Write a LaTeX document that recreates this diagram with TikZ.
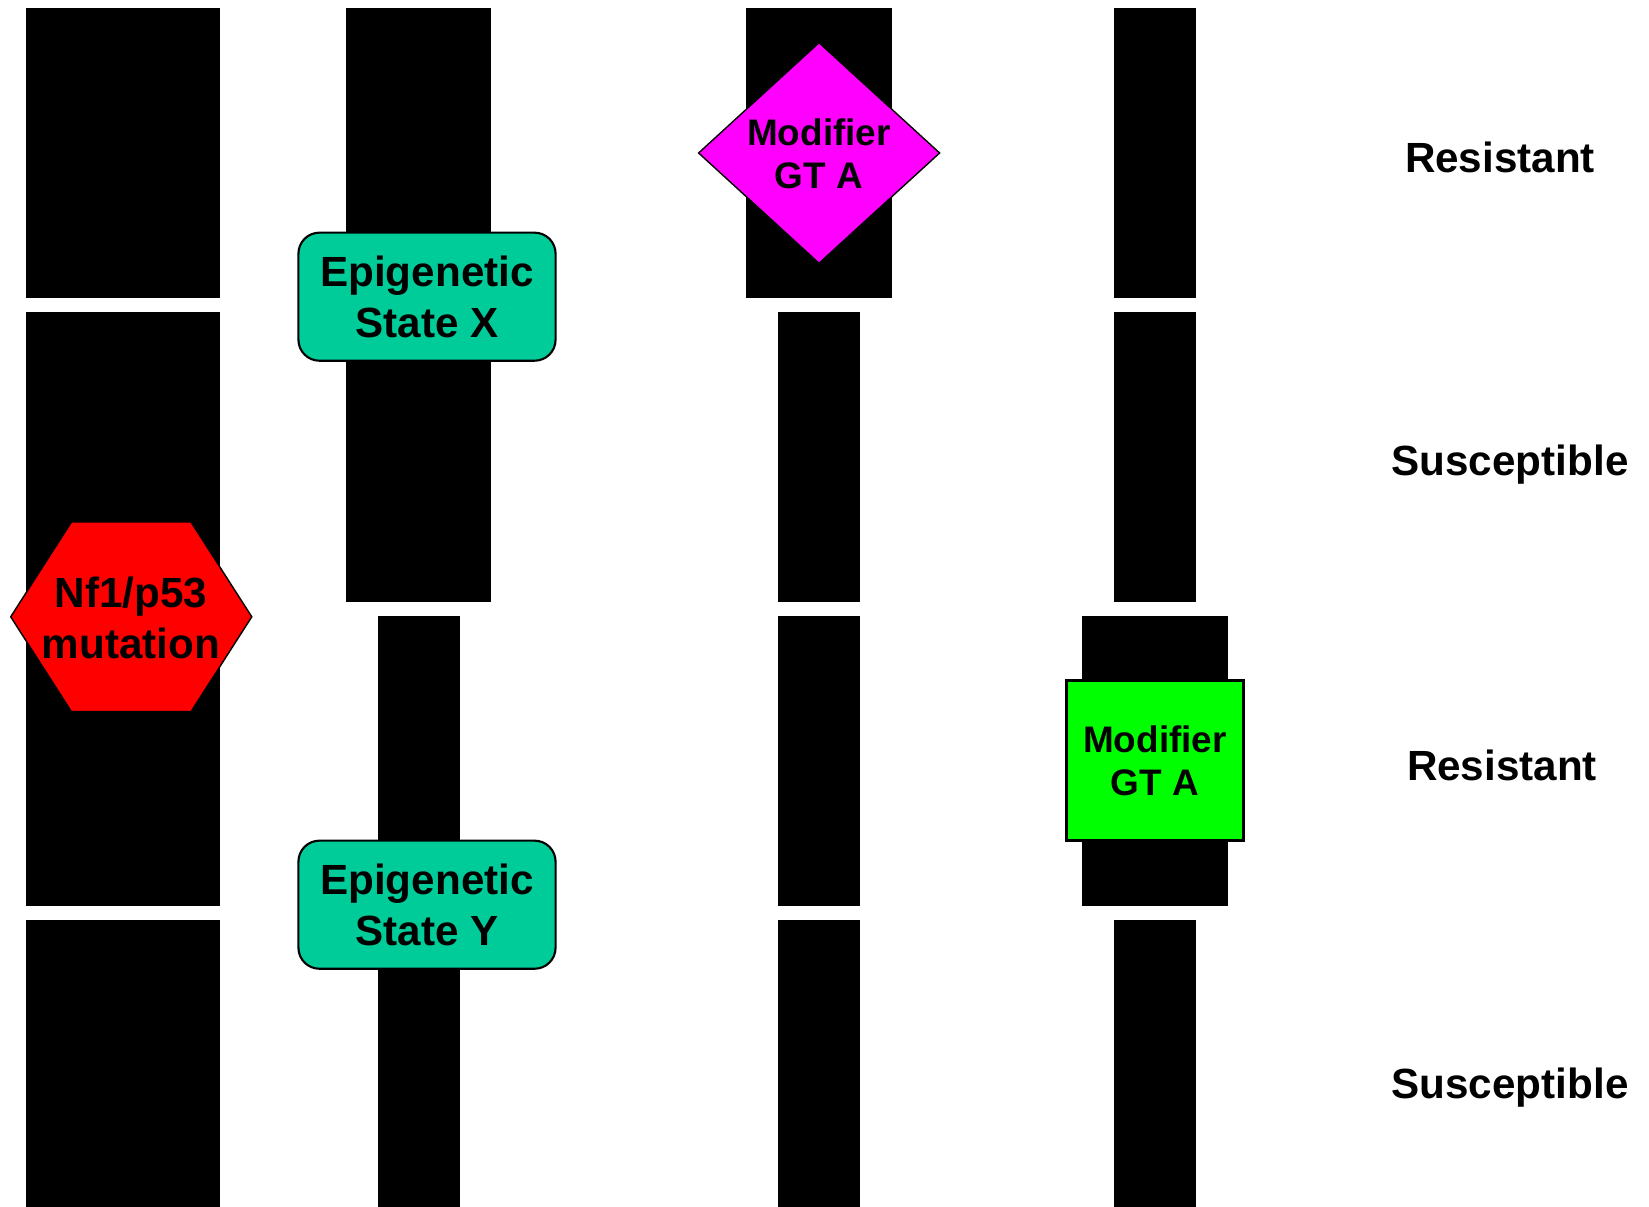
\documentclass[tikz,border=0pt]{standalone}
\usepackage{fontspec}
\setmainfont{Liberation Sans}
\usetikzlibrary{calc}
\definecolor{epiteal}{RGB}{0,204,153}
\definecolor{modmagenta}{RGB}{255,0,255}
\definecolor{mutred}{RGB}{255,0,0}
\definecolor{modgreen}{RGB}{0,255,0}
\tikzset{bigtext/.style={font=\fontsize{12}{14.4}\selectfont\bfseries,align=center,inner sep=0pt},
  smalltext/.style={font=\fontsize{10.5}{12.3}\selectfont\bfseries,align=center,inner sep=0pt},
  epibox/.style={bigtext,draw,line width=0.6pt,fill=epiteal,rounded corners=2.1mm,
    minimum width=25.7mm,minimum height=12.8mm}}

\begin{document}
\begin{tikzpicture}[x=0.01cm,y=-0.01cm]
          \useasboundingbox (0,0) rectangle (1649,1207);
          \def\ya{8.4} \def\yb{297.6}
          \def\yc{312.4} \def\yd{601.6}
          \def\ye{616.3} \def\yf{905.5}
          \def\yg{920.2} \def\yh{1207}

          % column 1
          \fill (26,\ya) rectangle (220,\yb);
          \fill (26,\yc) rectangle (220,\yf);
          \fill (26,\yg) rectangle (220,\yh);
          % column 2
          \fill (346,\ya) rectangle (491,\yd);
          \fill (378,\ye) rectangle (460,\yh);
          % column 3
          \fill (746,\ya) rectangle (892,\yb);
          \fill (778,\yc) rectangle (860,\yd);
          \fill (778,\ye) rectangle (860,\yf);
          \fill (778,\yg) rectangle (860,\yh);
          % column 4
          \fill (1114,\ya) rectangle (1196,\yb);
          \fill (1114,\yc) rectangle (1196,\yd);
          \fill (1082,\ye) rectangle (1228,\yf);
          \fill (1114,\yg) rectangle (1196,\yh);

          \filldraw[fill=mutred,line width=0.4pt] (10.7,616.8) -- (71.4,522) -- (191,522)
            -- (251.8,616.8) -- (191,711.7) -- (71.4,711.7) -- cycle;
          \node[bigtext] (mut) at (131,618) {Nf1/p53\\mutation};

          \node[epibox] (epiX) at (427,296.7) {Epigenetic\\State X};
          \node[epibox] (epiY) at (427,904.7) {Epigenetic\\State Y};

          \filldraw[fill=modmagenta,line width=0.4pt] (698.6,153) -- (819,42.7)
            -- (939.6,153) -- (819,263.3) -- cycle;
          \node[smalltext] (modA) at (819,153.5) {Modifier\\GT A};

          \node[smalltext,draw,line width=0.8pt,fill=modgreen,minimum width=17.66mm,
            minimum height=16.04mm] (modB) at (1155,760.5) {Modifier\\GT A};

          \node[bigtext,anchor=base] (res1) at (1500,172.5) {Resistant};
          \node[bigtext,anchor=base] (sus1) at (1510,475.5) {Susceptible};
          \node[bigtext,anchor=base] (res2) at (1502,780.5) {Resistant};
          \node[bigtext,anchor=base] (sus2) at (1510,1098.3) {Susceptible};
        \end{tikzpicture}
\end{document}
